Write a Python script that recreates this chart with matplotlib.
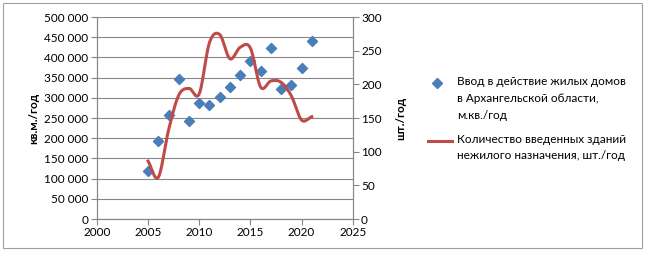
import numpy as np
import matplotlib
matplotlib.use('Agg')
import matplotlib.pyplot as plt
from matplotlib.patches import Rectangle
from matplotlib.lines import Line2D

plt.rcParams['font.family'] = ['Lato', 'DejaVu Sans']

# Data
years = [2005, 2006, 2007, 2008, 2009, 2010, 2011, 2012, 2013,
         2014, 2015, 2016, 2017, 2018, 2019, 2020, 2021]
housing = [118000, 193000, 258000, 346000, 243000, 288000, 282000, 302000, 326000,
           356000, 392000, 366000, 423000, 323000, 333000, 373000, 440000]
buildings = [86, 62, 132, 184, 194, 186, 262, 274, 238,
             255, 254, 196, 205, 203, 183, 147, 152]

housing_label = 'Ввод в действие жилых домов\nв Архангельской области,\nм.кв./год'
buildings_label = 'Количество введенных зданий\nнежилого назначения, шт./год'

blue = '#4a7ebb'
red = '#be4b48'


def smooth(x, y, n=30, t=0.5):
    # Catmull-Rom style curve through the points (like Excel's smoothed line)
    x = np.asarray(x, float)
    y = np.asarray(y, float)
    px = np.concatenate([[2 * x[0] - x[1]], x, [2 * x[-1] - x[-2]]])
    py = np.concatenate([[2 * y[0] - y[1]], y, [2 * y[-1] - y[-2]]])
    xs, ys = [], []
    for i in range(1, len(px) - 2):
        s = np.linspace(0, 1, n)
        for arr, out in ((px, xs), (py, ys)):
            p0, p1, p2, p3 = arr[i - 1], arr[i], arr[i + 1], arr[i + 2]
            m1 = t * (p2 - p0)
            m2 = t * (p3 - p1)
            h00 = 2 * s**3 - 3 * s**2 + 1
            h10 = s**3 - 2 * s**2 + s
            h01 = -2 * s**3 + 3 * s**2
            h11 = s**3 - s**2
            out.extend(h00 * p1 + h10 * m1 + h01 * p2 + h11 * m2)
    return xs, ys


fig = plt.figure(figsize=(6.46, 2.58), dpi=100)
fig.patches.append(Rectangle((0.004, 0.04), 0.99, 0.948, transform=fig.transFigure,
                             fill=False, edgecolor='#a0a0a0', linewidth=0.8))

ax = fig.add_axes([0.150, 0.151, 0.396, 0.783])
ax2 = ax.twinx()

ax.scatter(years, housing, marker='D', s=26, color=blue, zorder=3)
sx, sy = smooth(years, buildings)
ax2.plot(sx, sy, color=red, linewidth=2.2)

ax.set_xlim(2000, 2025)
ax.set_ylim(0, 500000)
ax2.set_ylim(0, 300)
ax.set_xticks(range(2000, 2026, 5))
ax.set_yticks(range(0, 500001, 50000))
ax.set_yticklabels(['{:,}'.format(v).replace(',', ' ') for v in range(0, 500001, 50000)])
ax2.set_yticks(range(0, 301, 50))

ax.grid(axis='y', color='#868686', linewidth=0.8)
ax.set_axisbelow(True)
for a in (ax, ax2):
    a.spines['top'].set_visible(False)
    for s in ('left', 'right', 'bottom'):
        a.spines[s].set_color('#868686')
    a.tick_params(labelsize=8.5, color='#868686', length=4, pad=2)

ax.set_ylabel('кв.м./год', fontsize=8.5, fontweight='bold')
ax.yaxis.set_label_coords(-0.225, 0.5)
ax2.set_ylabel('шт./год', fontsize=8.5, fontweight='bold')
ax2.yaxis.set_label_coords(1.165, 0.5)

# legend, handles aligned with first text line as in the original
fig.add_artist(Line2D([0.677], [0.678], marker='D', markersize=5, color=blue,
                      transform=fig.transFigure))
fig.text(0.707, 0.705, housing_label, fontsize=8.5, va='top', ha='left',
         linespacing=1.65, transform=fig.transFigure)
fig.add_artist(Line2D([0.663, 0.700], [0.455, 0.455], color=red, linewidth=2.2,
                      transform=fig.transFigure))
fig.text(0.707, 0.482, buildings_label, fontsize=8.5, va='top', ha='left',
         linespacing=1.65, transform=fig.transFigure)

fig.savefig('out.png', dpi=100)
